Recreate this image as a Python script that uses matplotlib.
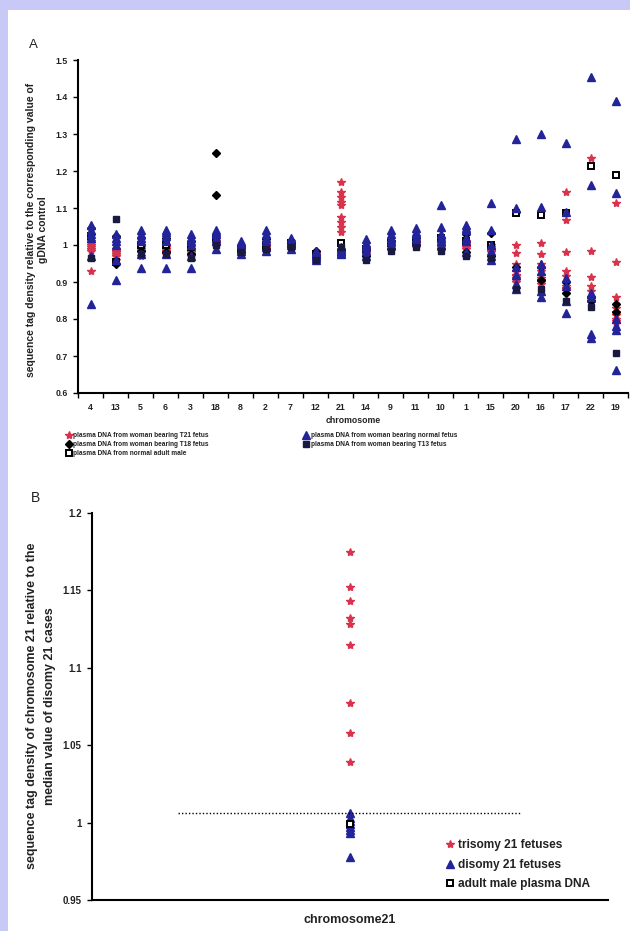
import numpy as np
import matplotlib
matplotlib.use("Agg")
import matplotlib.pyplot as plt
from matplotlib.patches import Rectangle

plt.rcParams['font.family'] = ['Liberation Sans', 'DejaVu Sans']

# ---- panel A data: chromosomes ordered by GC content ----
chroms = ['4', '13', '5', '6', '3', '18', '8', '2', '7', '12', '21',
          '14', '9', '11', '10', '1', '15', '20', '16', '17', '22', '19']

# plasma DNA from woman bearing T21 fetus (9 samples)
t21 = [
    [0.99, 0.975, 0.985, 0.985, 0.98, 1.01, 0.985, 0.995, 1.0, 0.97, 1.17, 0.98, 1.0, 1.005, 1.01, 1.01, 1.0, 1.0, 1.005, 1.143, 1.235, 1.113],
    [1.0, 0.98, 0.99, 0.99, 0.985, 1.005, 0.99, 1.0, 1.005, 0.975, 1.143, 0.985, 1.005, 1.01, 1.005, 1.005, 0.995, 0.978, 0.975, 1.068, 0.984, 0.954],
    [0.93, 0.96, 0.97, 0.975, 0.97, 1.0, 0.98, 0.99, 0.995, 0.965, 1.13, 0.975, 0.99, 0.995, 0.99, 0.99, 0.98, 0.95, 0.95, 0.98, 0.914, 0.86],
    [1.005, 0.985, 0.995, 0.995, 0.99, 1.01, 0.995, 1.0, 1.005, 0.98, 1.116, 0.99, 1.005, 1.01, 1.0, 1.0, 0.99, 0.93, 0.93, 0.93, 0.89, 0.83],
    [1.01, 0.99, 1.0, 1.0, 0.995, 1.015, 0.995, 1.005, 1.01, 0.98, 1.108, 0.99, 1.01, 1.015, 1.005, 1.005, 0.995, 0.92, 0.92, 0.915, 0.875, 0.82],
    [0.985, 0.97, 0.98, 0.98, 0.975, 1.0, 0.985, 0.99, 1.0, 0.97, 1.076, 0.98, 0.995, 1.0, 0.995, 0.995, 0.985, 0.91, 0.91, 0.9, 0.86, 0.81],
    [0.995, 0.975, 0.99, 0.99, 0.98, 1.005, 0.99, 0.995, 1.0, 0.975, 1.062, 0.985, 1.0, 1.005, 1.0, 1.0, 0.99, 0.905, 0.9, 0.89, 0.855, 0.80],
    [1.0, 0.98, 0.995, 0.99, 0.985, 1.005, 0.99, 1.0, 1.005, 0.975, 1.05, 0.985, 1.0, 1.005, 1.0, 1.0, 0.99, 0.9, 0.895, 0.885, 0.85, 0.795],
    [0.99, 0.97, 0.985, 0.985, 0.975, 1.0, 0.985, 0.99, 1.0, 0.97, 1.035, 0.98, 0.995, 1.0, 0.995, 0.995, 0.985, 0.915, 0.905, 0.88, 0.845, 0.79],
]

# plasma DNA from woman bearing T18 fetus
t18 = [
    [1.045, 1.025, 1.02, 1.02, 1.01, 1.25, 0.995, 1.015, 1.005, 0.985, 0.99, 0.99, 1.01, 1.02, 1.02, 1.03, 1.032, 1.09, 0.94, 0.9, 0.86, 0.84],
    [1.03, 0.95, 0.985, 0.98, 0.975, 1.135, 0.98, 0.99, 0.995, 0.965, 0.985, 0.97, 0.99, 1.0, 0.99, 0.98, 0.97, 0.94, 0.905, 0.87, 0.85, 0.82],
]

# plasma DNA from normal adult male
male = [
    [1.025, 0.955, 1.0, 1.0, 0.995, 1.02, 0.99, 1.0, 1.005, 0.975, 1.005, 0.99, 1.005, 1.01, 1.019, 1.01, 1.0, 1.086, 1.08, 1.086, 1.213, 1.19],
]

# plasma DNA from woman bearing normal fetus
normal = [
    [0.84, 0.905, 0.938, 0.938, 0.938, 0.99, 0.975, 0.985, 0.99, 0.965, 0.975, 0.97, 1.0, 1.01, 1.108, 1.054, 1.113, 1.286, 1.30, 1.276, 1.455, 1.39],
    [1.055, 1.03, 1.04, 1.04, 1.03, 1.04, 1.01, 1.04, 1.02, 0.975, 0.985, 1.0, 1.03, 1.035, 1.0, 0.98, 0.97, 0.88, 0.86, 0.816, 0.75, 0.662],
    [1.04, 1.02, 1.03, 1.035, 1.02, 1.035, 1.005, 1.03, 1.01, 0.96, 0.978, 1.015, 1.04, 1.045, 1.03, 1.04, 0.96, 0.895, 0.875, 0.85, 0.76, 0.77],
    [0.97, 0.96, 0.975, 0.975, 0.97, 1.01, 0.985, 0.995, 1.0, 0.97, 0.985, 0.985, 1.02, 1.02, 1.05, 1.045, 1.04, 1.10, 1.103, 1.09, 1.162, 1.14],
    [1.02, 1.0, 1.01, 1.01, 1.0, 1.02, 0.99, 1.01, 1.005, 0.98, 0.99, 0.995, 1.01, 1.02, 1.01, 1.01, 1.0, 0.94, 0.95, 0.91, 0.87, 0.80],
    [1.03, 1.01, 1.02, 1.025, 1.01, 1.03, 1.0, 1.02, 1.01, 0.985, 0.995, 1.005, 1.02, 1.03, 1.02, 1.02, 0.985, 0.92, 0.93, 0.89, 0.86, 0.78],
]

# plasma DNA from woman bearing T13 fetus
t13 = [
    [0.965, 1.07, 0.975, 0.975, 0.965, 1.0, 0.98, 0.99, 0.995, 0.96, 0.995, 0.96, 0.985, 0.995, 0.985, 0.97, 0.965, 0.88, 0.88, 0.85, 0.832, 0.708],
]

# ---- panel B data: chromosome 21 ----
b_trisomy = [1.175, 1.152, 1.143, 1.132, 1.128, 1.115, 1.077, 1.058, 1.039]
b_disomy = [1.006, 1.003, 1.001, 0.999, 0.997, 0.995, 0.993, 0.978]
b_male = [0.999]
b_cutoff = 1.006

W, H = 630, 931
fig = plt.figure(figsize=(W / 100, H / 100), dpi=100, facecolor='#c9c9f7')
fig.patches.append(Rectangle((8 / W, 0), 1, 1 - 10 / H, transform=fig.transFigure,
                             facecolor='white', edgecolor='none', zorder=-5))

red = '#d8324c'
navy = '#24249a'
txt = '#222222'

# ---------------- panel A ----------------
axA = fig.add_axes([78 / W, 1 - 393 / H, 550 / W, 333 / H])
axA.patch.set_alpha(0)
x = np.arange(len(chroms))
styles = [
    (t21, dict(marker='*', color=red, ms=6, mec=red), 'plasma DNA from woman bearing T21 fetus'),
    (t18, dict(marker='D', color='black', ms=3.8, mec='black'), 'plasma DNA from woman bearing T18 fetus'),
    (male, dict(marker='s', color='white', ms=4.3, mec='black', mew=1.4), 'plasma DNA from normal adult male'),
    (normal, dict(marker='^', color=navy, ms=5.3, mec=navy), 'plasma DNA from woman bearing normal fetus'),
    (t13, dict(marker='s', color='#1a1a40', ms=4, mec='#1a1a40'), 'plasma DNA from woman bearing T13 fetus'),
]
handles = []
for rows, st, lab in styles:
    for i, row in enumerate(rows):
        h, = axA.plot(x, row, linestyle='none', label=lab if i == 0 else None, **st)
        if i == 0:
            handles.append(h)

axA.set_xlim(-0.5, len(chroms) - 0.5)
axA.set_ylim(0.6, 1.5)
axA.set_yticks(np.arange(0.6, 1.51, 0.1))
axA.set_yticklabels(['0.6', '0.7', '0.8', '0.9', '1', '1.1', '1.2', '1.3', '1.4', '1.5'])
axA.set_xticks(np.arange(-0.5, len(chroms)), labels=[])
axA.set_xticks(x, labels=chroms, minor=True)
axA.tick_params(axis='x', which='minor', length=0, labelsize=6.3, pad=7, labelcolor=txt)
axA.tick_params(axis='x', which='major', length=3.5, width=1, direction='out')
axA.tick_params(axis='y', length=3.5, width=1, labelsize=6.3, pad=4, labelcolor=txt)
for lab in axA.get_yticklabels() + axA.get_xticklabels(minor=True):
    lab.set_fontweight('bold')
for s in ['top', 'right']:
    axA.spines[s].set_visible(False)
for s in ['left', 'bottom']:
    axA.spines[s].set_linewidth(1.5)
axA.set_xlabel('chromosome', fontsize=6.3, labelpad=3, fontweight='bold', color=txt)
fig.text(37 / W, 1 - 230 / H,
         'sequence tag density relative to the corresponding value of\ngDNA control',
         rotation=90, ha='center', va='center', fontsize=7.5, fontweight='bold',
         linespacing=1.25, color=txt)
fig.text(33 / W, 1 - 45 / H, 'A', fontsize=9.5, ha='center', va='center', color=txt)

fig.legend(handles=handles, loc='upper left', bbox_to_anchor=(66 / W, 1 - 432 / H),
           ncol=2, frameon=False, prop=dict(size=4.7, weight='bold'), handlelength=0.8,
           handletextpad=0.3, labelspacing=0.3, columnspacing=14.5, borderpad=0,
           borderaxespad=0, labelcolor=txt)

# ---------------- panel B ----------------
axB = fig.add_axes([92 / W, 1 - 900 / H, 516 / W, 387 / H])
axB.patch.set_alpha(0)
axB.plot([1] * len(b_trisomy), b_trisomy, linestyle='none', marker='*', color=red,
         ms=6, label='trisomy 21 fetuses')
axB.plot([1] * len(b_disomy), b_disomy, linestyle='none', marker='^', color=navy,
         ms=5.5, label='disomy 21 fetuses')
axB.plot([1] * len(b_male), b_male, linestyle='none', marker='s', color='white',
         mec='black', mew=1.4, ms=4.5, label='adult male plasma DNA')
axB.plot([0.335, 1.66], [b_cutoff, b_cutoff], linestyle=(0, (1, 1.5)), color='black', lw=1)
axB.set_xlim(0, 2)
axB.set_ylim(0.95, 1.2)
axB.set_yticks([0.95, 1.0, 1.05, 1.1, 1.15, 1.2])
axB.set_yticklabels(['0.95', '1', '1.05', '1.1', '1.15', '1.2'])
axB.set_xticks([])
axB.tick_params(axis='y', length=3.5, width=1, labelsize=7, pad=4, labelcolor=txt)
for lab in axB.get_yticklabels():
    lab.set_fontweight('bold')
for s in ['top', 'right']:
    axB.spines[s].set_visible(False)
for s in ['left', 'bottom']:
    axB.spines[s].set_linewidth(1.5)
axB.set_xlabel('chromosome21', fontsize=9, labelpad=10, fontweight='bold', color=txt)
fig.text(41 / W, 1 - 706 / H,
         'sequence tag density of chromosome 21 relative to the\nmedian value of disomy 21 cases',
         rotation=90, ha='center', va='center', fontsize=9, fontweight='bold',
         linespacing=1.7, color=txt)
fig.text(35 / W, 1 - 498 / H, 'B', fontsize=10, ha='center', va='center', color=txt)
axB.legend(loc='lower left', bbox_to_anchor=(0.675, 0.01), frameon=False,
           prop=dict(size=8.6, weight='bold'), handlelength=0.7, handletextpad=0.25,
           labelspacing=0.62, borderpad=0, labelcolor=txt)

fig.savefig('out.png', dpi=100, facecolor=fig.get_facecolor())
